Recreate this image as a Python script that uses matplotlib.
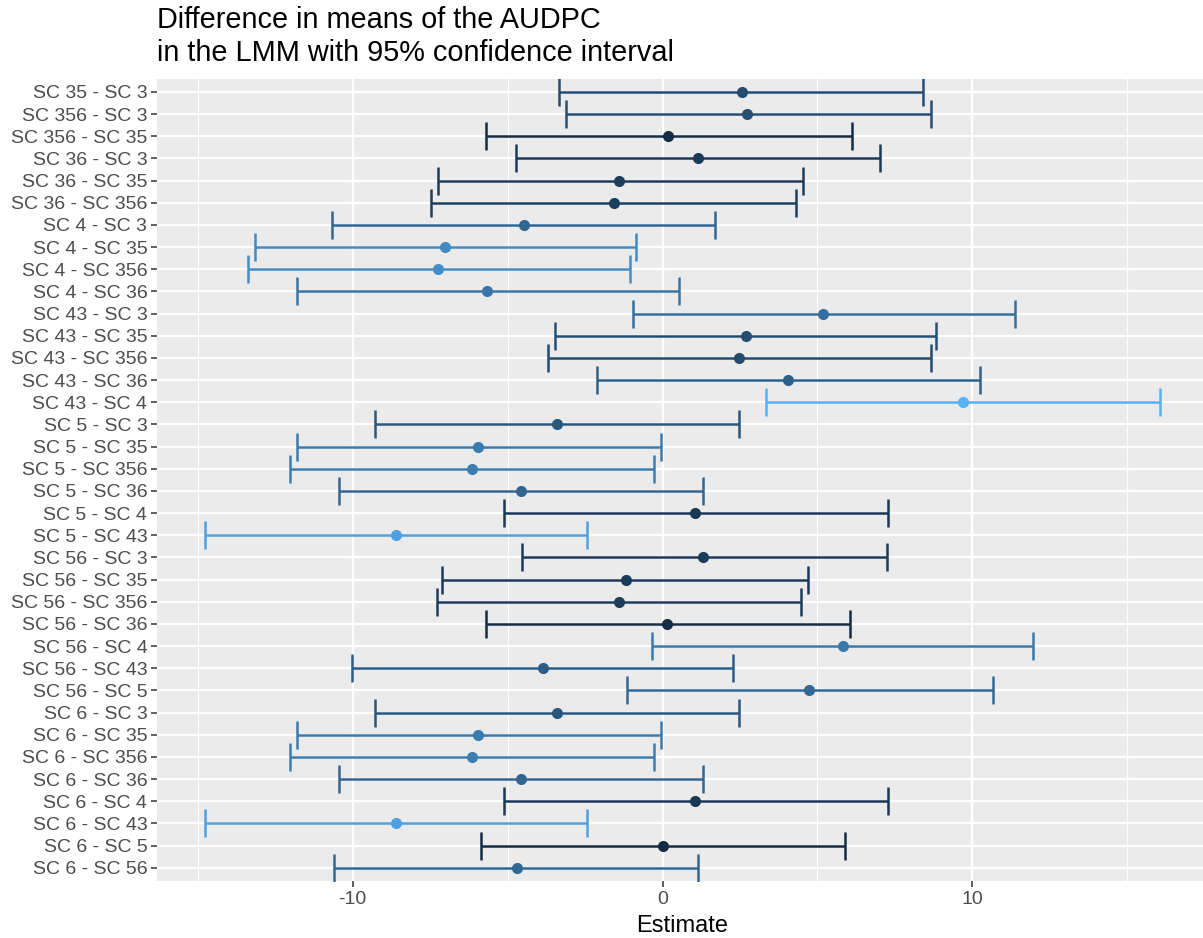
import numpy as np
import matplotlib
matplotlib.use("Agg")
import matplotlib.pyplot as plt
from matplotlib.colors import LinearSegmentedColormap

plt.rcParams['font.family'] = ['Liberation Sans', 'DejaVu Sans']

# pairwise contrasts, top to bottom
contrasts = [
    "SC 35 - SC 3", "SC 356 - SC 3", "SC 356 - SC 35", "SC 36 - SC 3",
    "SC 36 - SC 35", "SC 36 - SC 356", "SC 4 - SC 3", "SC 4 - SC 35",
    "SC 4 - SC 356", "SC 4 - SC 36", "SC 43 - SC 3", "SC 43 - SC 35",
    "SC 43 - SC 356", "SC 43 - SC 36", "SC 43 - SC 4", "SC 5 - SC 3",
    "SC 5 - SC 35", "SC 5 - SC 356", "SC 5 - SC 36", "SC 5 - SC 4",
    "SC 5 - SC 43", "SC 56 - SC 3", "SC 56 - SC 35", "SC 56 - SC 356",
    "SC 56 - SC 36", "SC 56 - SC 4", "SC 56 - SC 43", "SC 56 - SC 5",
    "SC 6 - SC 3", "SC 6 - SC 35", "SC 6 - SC 356", "SC 6 - SC 36",
    "SC 6 - SC 4", "SC 6 - SC 43", "SC 6 - SC 5", "SC 6 - SC 56",
]
estimate = [2.55, 2.74, 0.19, 1.16, -1.39, -1.58, -4.48, -7.03, -7.23, -5.65,
            5.19, 2.68, 2.48, 4.06, 9.71, -3.39, -5.94, -6.16, -4.58, 1.06,
            -8.61, 1.32, -1.19, -1.42, 0.16, 5.81, -3.87, 4.74,
            -3.39, -5.94, -6.16, -4.58, 1.06, -8.61, 0.00, -4.71]
lower = [-3.35, -3.13, -5.68, -4.74, -7.26, -7.48, -10.65, -13.16, -13.39, -11.81,
         -0.94, -3.48, -3.68, -2.10, 3.35, -9.29, -11.81, -12.03, -10.45, -5.10,
         -14.77, -4.55, -7.10, -7.29, -5.71, -0.35, -10.03, -1.13,
         -9.29, -11.81, -12.03, -10.45, -5.10, -14.77, -5.87, -10.61]
upper = [8.42, 8.65, 6.10, 7.03, 4.52, 4.32, 1.68, -0.84, -1.06, 0.52,
         11.39, 8.84, 8.65, 10.23, 16.06, 2.48, -0.06, -0.26, 1.32, 7.26,
         -2.45, 7.23, 4.68, 4.48, 6.06, 11.97, 2.29, 10.65,
         2.48, -0.06, -0.26, 1.32, 7.26, -2.45, 5.90, 1.16]

est = np.array(estimate)
lo = np.array(lower)
hi = np.array(upper)
n = len(contrasts)
ypos = np.arange(n)

# ggplot default continuous gradient, coloured by |estimate|
cmap = LinearSegmentedColormap.from_list("gg", ["#132B43", "#336A98", "#56B1F7"])
mag = np.abs(est)
colors = cmap((mag - mag.min()) / (mag.max() - mag.min()))

W, H = 1203, 938
fig = plt.figure(figsize=(W / 100, H / 100), dpi=100)
ax = fig.add_axes([157 / W, 1 - 881 / H, (1208 - 157) / W, (881 - 78.7) / H])
ax.set_facecolor("#EBEBEB")

for y, e, l, h, c in zip(ypos, est, lo, hi, colors):
    ax.errorbar(e, y, xerr=[[e - l], [h - e]], fmt="none", ecolor=c,
                elinewidth=1.8, capsize=10, capthick=1.8, zorder=3)
    ax.plot(e, y, "o", color=c, ms=8, mec="none", zorder=4)

rng = hi.max() - lo.min()
ax.set_xlim(lo.min() - 0.05 * rng, hi.max() + 0.05 * rng)
ax.set_ylim(n - 1 + 0.6, -0.6)

ax.set_xticks([-10, 0, 10])
ax.set_xticklabels(["-10", "0", "10"])
ax.set_xticks([-15, -5, 5, 15], minor=True)
ax.set_yticks(ypos)
ax.set_yticklabels(contrasts)

ax.grid(which="major", color="white", lw=1.6, zorder=0)
ax.grid(which="minor", axis="x", color="white", lw=0.8, zorder=0)
ax.set_axisbelow(True)
for s in ax.spines.values():
    s.set_visible(False)

ax.tick_params(axis="both", which="major", length=4, width=1.1, color="#333333",
               labelcolor="#4D4D4D", labelsize=14, pad=3)
ax.tick_params(axis="x", which="minor", length=0)

ax.set_xlabel("Estimate", fontsize=17, color="black", labelpad=5)
fig.text(157 / W, 1 - 28.3 / H, "Difference in means of the AUDPC",
         ha="left", va="baseline", fontsize=20.8, color="black")
fig.text(157 / W, 1 - 60.7 / H, "in the LMM with 95% confidence interval",
         ha="left", va="baseline", fontsize=20.8, color="black")

fig.savefig("out.png", dpi=100)
